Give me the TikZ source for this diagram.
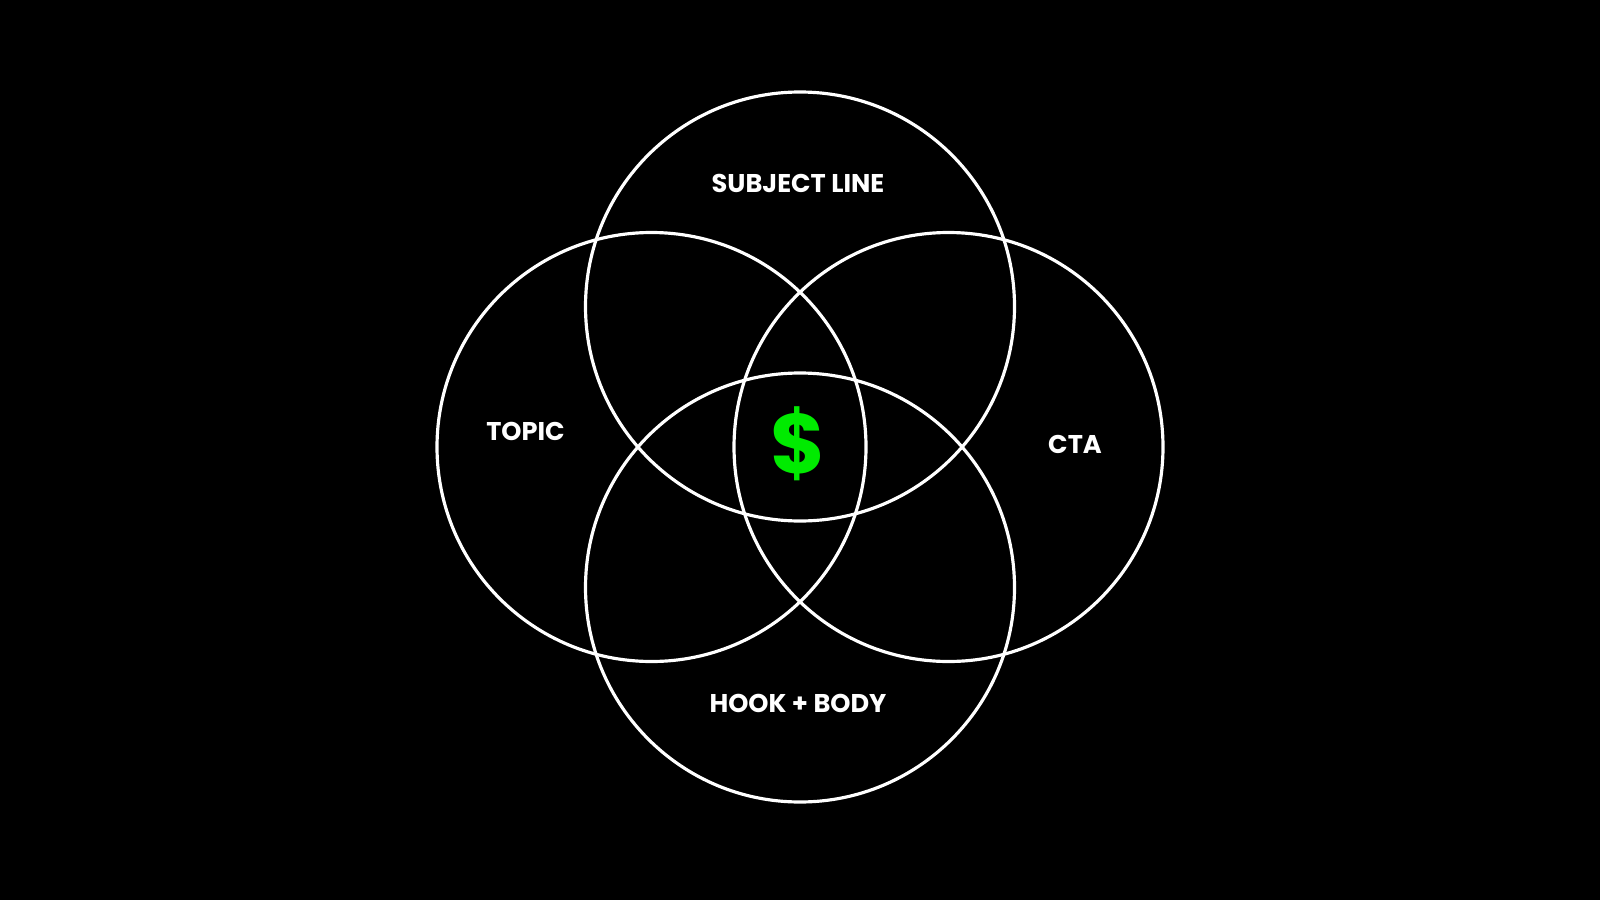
\documentclass[tikz,border=0pt]{standalone}
\usepackage{fontspec}
\setmainfont{Poppins}
\usepackage{tikz}
\usetikzlibrary{positioning}

\begin{document}
\begin{tikzpicture}[
      ring/.style={circle, draw=white, line width=0.9pt, minimum size=4.29cm, inner sep=0pt},
      label/.style={text=white, font=\bfseries\fontsize{7.3pt}{8pt}\selectfont},
      money/.style={text=moneygreen, font=\bfseries\fontsize{24pt}{26pt}\selectfont},
      x=1cm, y=1cm
    ]
    \definecolor{moneygreen}{RGB}{0,235,0}
    \fill[black] (0,0) rectangle (16,9);
    \useasboundingbox (0,0) rectangle (16,9);

    \node[ring] (subj) at (8.0,5.935) {};
    \node[ring] (topic) at (6.515,4.53) {};
    \node[ring] (cta) at (9.485,4.53) {};
    \node[ring] (hook) at (8.0,3.125) {};

    \node[label] (subjlbl) at (7.98,7.17) {SUBJECT LINE};
    \node[label] (topiclbl) at (5.255,4.69) {TOPIC};
    \node[label] (ctalbl) at (10.75,4.56) {CTA};
    \node[label] (hooklbl) at (7.98,1.97) {HOOK + BODY};
    \node[money] (dollar) at (7.98,4.56) {\$};
  \end{tikzpicture}
\end{document}
